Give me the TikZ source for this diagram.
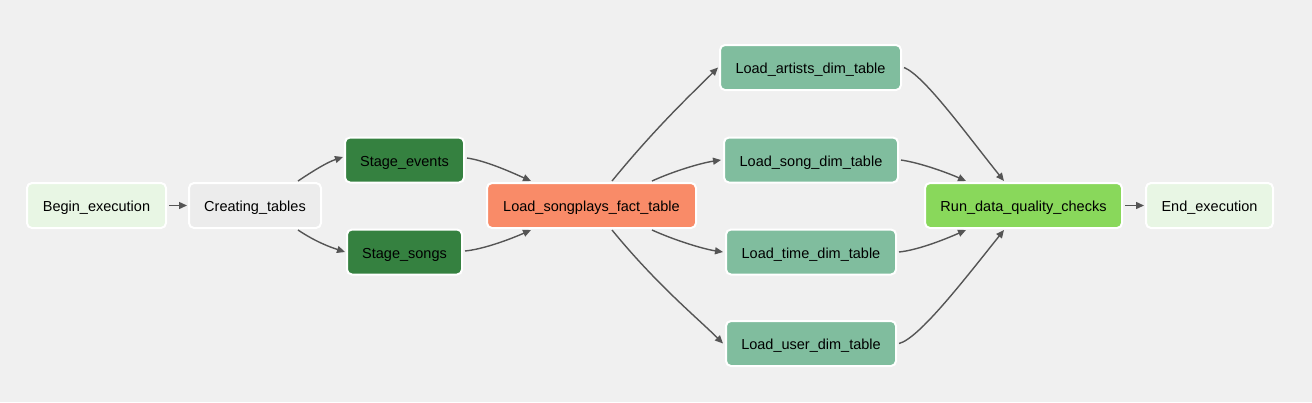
\documentclass[tikz,border=0pt]{standalone}
\usepackage{fontspec}
\setmainfont{Liberation Sans}
\usetikzlibrary{arrows.meta}
\definecolor{bg}{HTML}{F0F0F0}
\definecolor{ctc}{HTML}{ECECEC}
\definecolor{lightg}{HTML}{E8F6E4}
\definecolor{stagec}{HTML}{358140}
\definecolor{factc}{HTML}{F98B68}
\definecolor{dimc}{HTML}{80BD9E}
\definecolor{checkc}{HTML}{89D85B}
\definecolor{edgec}{HTML}{555555}
\tikzset{
  task/.style={draw=white, line width=2pt, rounded corners=5pt, inner sep=0pt,
    minimum height=45pt, text height=12pt, text depth=0pt,
    font=\fontsize{14.5}{17}\selectfont, text=black},
  edge/.style={draw=edgec, line width=1.4pt, -{Triangle[length=8pt,width=7pt]}}
}
\begin{document}
\begin{tikzpicture}[x=1pt,y=-1pt]
\fill[bg] (0,0) rectangle (1312,402);
\useasboundingbox (0,0) rectangle (1312,402);
\node[task, fill=lightg, minimum width=139pt] (be) at (96.5,205.5) {Begin\_execution};
\node[task, fill=ctc, minimum width=132pt] (ct) at (255,205.5) {Creating\_tables};
\node[task, fill=stagec, minimum width=119pt] (se) at (404.5,160) {Stage\_events};
\node[task, fill=stagec, minimum width=115pt] (ss) at (404.5,252) {Stage\_songs};
\node[task, fill=factc, minimum width=209pt] (lf) at (591.5,205.5) {Load\_songplays\_fact\_table};
\node[task, fill=dimc, minimum width=181pt] (la) at (810.5,67.5) {Load\_artists\_dim\_table};
\node[task, fill=dimc, minimum width=174pt] (ls) at (811,160) {Load\_song\_dim\_table};
\node[task, fill=dimc, minimum width=170pt] (lt) at (811,252) {Load\_time\_dim\_table};
\node[task, fill=dimc, minimum width=170pt] (lu) at (811,343.5) {Load\_user\_dim\_table};
\node[task, fill=checkc, minimum width=197pt] (rq) at (1023.5,205.5) {Run\_data\_quality\_checks};
\node[task, fill=lightg, minimum width=127pt] (ee) at (1209.5,205.5) {End\_execution};

\draw[edge] ([xshift=2pt]be.east) -- ([xshift=-1pt]ct.west);
\draw[edge] ([xshift=-24pt,yshift=1pt]ct.north east) .. controls +(18,-12) and +(-15,5) .. ([xshift=-1pt,yshift=3pt]se.west);
\draw[edge] ([xshift=-24pt,yshift=-1pt]ct.south east) .. controls +(18,12) and +(-15,-5) .. ([xshift=-1pt]ss.west);
\draw[edge] ([xshift=2pt,yshift=2pt]se.east) .. controls +(20,3) and +(-18,-8) .. ([xshift=45pt,yshift=1pt]lf.north west);
\draw[edge] ([xshift=2pt,yshift=1pt]ss.east) .. controls +(20,-2) and +(-18,8) .. ([xshift=45pt,yshift=-1pt]lf.south west);
\draw[edge] ([xshift=20.5pt,yshift=1pt]lf.north) .. controls +(45,-55) and +(-25,25) .. ([xshift=-1pt]la.west);
\draw[edge] ([xshift=60.5pt,yshift=1pt]lf.north) .. controls +(22,-10) and +(-20,3) .. ([xshift=-2pt]ls.west);
\draw[edge] ([xshift=60.5pt,yshift=-1pt]lf.south) .. controls +(22,10) and +(-20,-3) .. ([xshift=-2pt]lt.west);
\draw[edge] ([xshift=20.5pt,yshift=-1pt]lf.south) .. controls +(45,55) and +(-25,-25) .. ([xshift=-2pt]lu.west);
\draw[edge] ([xshift=2pt]la.east) .. controls +(20,8) and +(-40,-50) .. ([xshift=-19.5pt,yshift=1pt]rq.north);
\draw[edge] ([xshift=2pt]ls.east) .. controls +(20,3) and +(-18,-8) .. ([xshift=-57.5pt,yshift=1pt]rq.north);
\draw[edge] ([xshift=2pt]lt.east) .. controls +(20,-2) and +(-18,8) .. ([xshift=-57.5pt,yshift=-1pt]rq.south);
\draw[edge] ([xshift=2pt]lu.east) .. controls +(20,-5) and +(-40,50) .. ([xshift=-19.5pt,yshift=-1pt]rq.south);
\draw[edge] ([xshift=2pt]rq.east) -- ([xshift=-1pt]ee.west);
\end{tikzpicture}
\end{document}
